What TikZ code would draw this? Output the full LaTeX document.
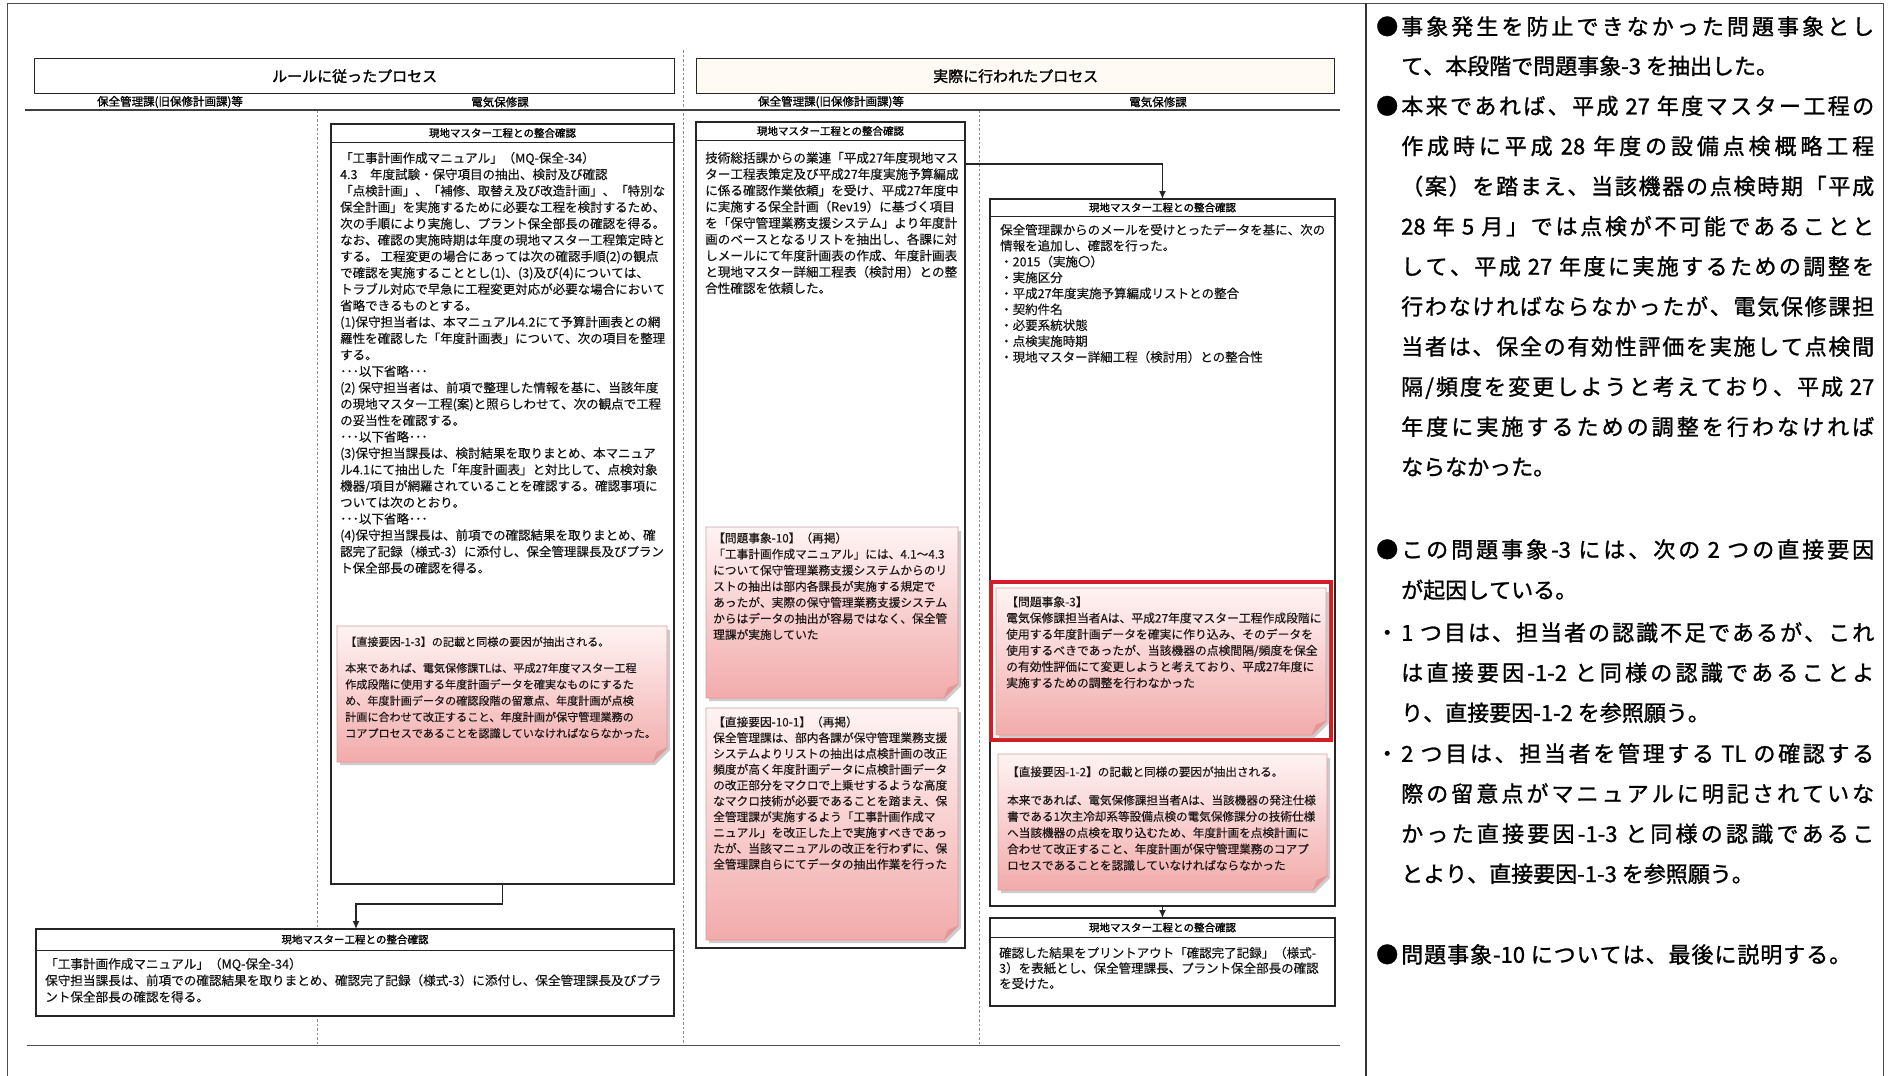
\documentclass[tikz,border=0pt]{standalone}
\usepackage{fontspec}
\setmainfont{Noto Sans CJK JP}
\newfontfamily\jp[FakeBold=0.4]{Noto Sans CJK JP}
\newfontfamily\jpb[FakeBold=1.5]{Noto Sans CJK JP}
\newfontfamily\jpr[FakeBold=1.2]{Noto Sans CJK JP}
\newfontfamily\jpt[FakeBold=1.5]{Noto Sans CJK JP}
\newfontfamily\jpc[LetterSpace=16,FakeBold=1.2]{Noto Sans CJK JP}
\usetikzlibrary{arrows.meta}
% inter-character glue for CJK justification
\XeTeXinterchartokenstate=1
\newXeTeXintercharclass\jcls
\newcount\jcnt
\def\setjrange#1#2{\jcnt=#1\relax\loop\XeTeXcharclass\jcnt=\jcls\advance\jcnt by 1\relax\ifnum\jcnt<#2\repeat}
\setjrange{"3000}{"3100}
\setjrange{"4E00}{"A000}
\setjrange{"FF00}{"FFF0}
\def\jglue{\hskip 0pt plus 3pt minus 1pt\relax}
\XeTeXinterchartoks\jcls\jcls={\jglue}
\XeTeXinterchartoks\jcls 0={\jglue}
\XeTeXinterchartoks 0 \jcls={\jglue}
\newcommand\jl[1]{\makebox[473pt][s]{#1}}
\definecolor{pinkT}{HTML}{FFF3F3}
\definecolor{pinkB}{HTML}{F2ABAB}
\definecolor{pinkD}{HTML}{D99C9C}
\definecolor{pinkF}{HTML}{E59797}
\definecolor{redbox}{HTML}{D11F26}
\definecolor{inkC}{HTML}{1E1818}
\definecolor{creamT}{HTML}{FFFAF4}
\newcommand\pinknote[4]{%
  \fill[black!20] (#1+3,#2+4) -- (#3+3,#2+4) -- (#3+3,#4-12) -- (#3-12,#4+3) -- (#1+3,#4+3) -- cycle;
  \shadedraw[top color=pinkT, bottom color=pinkB, draw=pinkD, line width=0.6pt]
    (#1,#2) -- (#3,#2) -- (#3,#4-14) -- (#3-14,#4) -- (#1,#4) -- cycle;
  \filldraw[fill=pinkF, draw=pinkD, line width=0.5pt] (#3,#4-14) -- (#3-14,#4) -- (#3-10,#4-10) -- cycle;
}
\begin{document}
\begin{tikzpicture}[x=1pt,y=-1pt,
  box/.style={draw=black!85, line width=1.3pt, fill=white, anchor=north west, inner sep=0pt, outer sep=0pt},
  bhead/.style={font=\jpb\fontsize{10.5}{12}\selectfont, inner sep=0pt, anchor=center},
  body/.style={anchor=north west, align=left, inner sep=0pt, font=\jp\fontsize{12.5}{16.4}\selectfont, text=black!92},
  ntext/.style={anchor=north west, align=left, inner sep=0pt, text=inkC},
  sepl/.style={draw=black!45, line width=0.7pt, dash pattern=on 2.5pt off 2pt},
  arr/.style={draw=black!85, line width=1.3pt, -{Latex[length=8pt,width=7pt]}},
  rp/.style={anchor=north west, align=left, inner sep=0pt, font=\jpr\fontsize{22}{40.1}\selectfont},
  title/.style={draw=black!85, line width=1.3pt, anchor=north west, inner sep=0pt, font=\jpt\fontsize{15}{16}\selectfont},
  colh/.style={font=\jpc\fontsize{11.5}{12}\selectfont, inner sep=0pt}
]
\useasboundingbox (0,0) rectangle (1890,1076);
\fill[white] (0,0) rectangle (1890,1076);

% outer frame and grid
\draw[line width=1.0pt, black!70] (7,1076) -- (7,3) -- (1883,3) -- (1883,1076);
\draw[line width=1.3pt, black!80] (1366,3) -- (1366,1076);
\draw[sepl] (317,110) -- (317,1045);
\draw[sepl] (683,50) -- (683,1045);
\draw[sepl] (979,110) -- (979,1045);
\draw[line width=1.0pt, black!70] (27,1045) -- (1340,1045);

% titles
\node[title, fill=white, minimum width=640pt, minimum height=35pt] (T1) at (34,58) {ルールに従ったプロセス};
\node[title, fill=creamT, minimum width=638pt, minimum height=35pt] (T2) at (696,58) {実際に行われたプロセス};

% column headers
\node[colh] (H1) at (170,102) {保全管理課(旧保修計画課)等};
\node[colh] (H2) at (500,102) {電気保修課};
\node[colh] (H3) at (831,102) {保全管理課(旧保修計画課)等};
\node[colh] (H4) at (1158,102) {電気保修課};
\draw[line width=1.5pt, black!75] (25,110) -- (1340,110);

% ---- Box A
\node[box, minimum width=343pt, minimum height=760pt] (A) at (331,124) {};
\draw[line width=1pt, black!85] (331,142) -- (674,142);
\node[bhead] (Ah) at (502.5,133) {現地マスター工程との整合確認};
\node[body] (At) at (340,151.8) {「工事計画作成マニュアル」（MQ-保全-34）\\
4.3　年度試験・保守項目の抽出、検討及び確認\\
「点検計画」、「補修、取替え及び改造計画」、「特別な\\
保全計画」を実施するために必要な工程を検討するため、\\
次の手順により実施し、プラント保全部長の確認を得る。\\
なお、確認の実施時期は年度の現地マスター工程策定時と\\
する。 工程変更の場合にあっては次の確認手順(2)の観点\\
で確認を実施することとし(1)、(3)及び(4)については、\\
トラブル対応で早急に工程変更対応が必要な場合において\\
省略できるものとする。\\
(1)保守担当者は、本マニュアル4.2にて予算計画表との網\\
羅性を確認した「年度計画表」について、次の項目を整理\\
する。\\
･･･以下省略･･･\\
(2) 保守担当者は、前項で整理した情報を基に、当該年度\\
の現地マスター工程(案)と照らしわせて、次の観点で工程\\
の妥当性を確認する。\\
･･･以下省略･･･\\
(3)保守担当課長は、検討結果を取りまとめ、本マニュア\\
ル4.1にて抽出した「年度計画表」と対比して、点検対象\\
機器/項目が網羅されていることを確認する。確認事項に\\
ついては次のとおり。\\
･･･以下省略･･･\\
(4)保守担当課長は、前項での確認結果を取りまとめ、確\\
認完了記録（様式-3）に添付し、保全管理課長及びプラン\\
ト保全部長の確認を得る。};
\pinknote{337}{626}{667}{762}
\node[ntext, font=\jp\fontsize{11.1}{16.3}\selectfont] (An) at (345,636.4) {【直接要因-1-3】の記載と同様の要因が抽出される。\\[10pt]
本来であれば、電気保修課TLは、平成27年度マスター工程\\
作成段階に使用する年度計画データを確実なものにするた\\
め、年度計画データの確認段階の留意点、年度計画が点検\\
計画に合わせて改正すること、年度計画が保守管理業務の\\
コアプロセスであることを認識していなければならなかった。};

% ---- Box B
\node[box, minimum width=638pt, minimum height=87pt] (B) at (36,929) {};
\draw[line width=1pt, black!85] (36,950) -- (674,950);
\node[bhead] (Bh) at (355,939.5) {現地マスター工程との整合確認};
\node[body, font=\jp\fontsize{12.6}{16.5}\selectfont] (Bt) at (45,957.7) {「工事計画作成マニュアル」（MQ-保全-34）\\
保守担当課長は、前項での確認結果を取りまとめ、確認完了記録（様式-3）に添付し、保全管理課長及びプラ\\
ント保全部長の確認を得る。};

\coordinate (a1) at (502.5,904);
\coordinate (bIn) at (356,929);
\draw[arr] (A.south) -- (a1) -| (bIn);

% ---- Box C
\node[box, minimum width=269pt, minimum height=826pt] (C) at (696,122) {};
\draw[line width=1pt, black!85] (696,140) -- (965,140);
\node[bhead] (Ch) at (830.5,131) {現地マスター工程との整合確認};
\node[body, font=\jp\fontsize{12.6}{16.3}\selectfont] (Ct) at (705,151.7) {技術総括課からの業連「平成27年度現地マス\\
ター工程表策定及び平成27年度実施予算編成\\
に係る確認作業依頼」を受け、平成27年度中\\
に実施する保全計画（Rev19）に基づく項目\\
を「保守管理業務支援システム」より年度計\\
画のベースとなるリストを抽出し、各課に対\\
しメールにて年度計画表の作成、年度計画表\\
と現地マスター詳細工程表（検討用）との整\\
合性確認を依頼した。};
\pinknote{706}{527}{958}{698}
\node[ntext, font=\jp\fontsize{11.7}{16.1}\selectfont] (Cn1) at (713,532.2) {【問題事象-10】（再掲）\\
「工事計画作成マニュアル」には、4.1～4.3\\
について保守管理業務支援システムからのリ\\
ストの抽出は部内各課長が実施する規定で\\
あったが、実際の保守管理業務支援システム\\
からはデータの抽出が容易ではなく、保全管\\
理課が実施していた};
\pinknote{706}{708}{958}{940}
\node[ntext, font=\jp\fontsize{11.7}{15.8}\selectfont] (Cn2) at (713,716.2) {【直接要因-10-1】（再掲）\\
保全管理課は、部内各課が保守管理業務支援\\
システムよりリストの抽出は点検計画の改正\\
頻度が高く年度計画データに点検計画データ\\
の改正部分をマクロで上乗せするような高度\\
なマクロ技術が必要であることを踏まえ、保\\
全管理課が実施するよう「工事計画作成マ\\
ニュアル」を改正した上で実施すべきであっ\\
たが、当該マニュアルの改正を行わずに、保\\
全管理課自らにてデータの抽出作業を行った};

% ---- Box D
\node[box, minimum width=345pt, minimum height=707pt] (D) at (990,199) {};
\draw[line width=1pt, black!85] (990,216) -- (1335,216);
\node[bhead] (Dh) at (1162.5,207.5) {現地マスター工程との整合確認};
\node[body, font=\jp\fontsize{12.5}{15.9}\selectfont] (Dt) at (1000,223.7) {保全管理課からのメールを受けとったデータを基に、次の\\
情報を追加し、確認を行った。\\
・2015（実施〇）\\
・実施区分\\
・平成27年度実施予算編成リストとの整合\\
・契約件名\\
・必要系統状態\\
・点検実施時期\\
・現地マスター詳細工程（検討用）との整合性};
\draw[redbox, line width=3.5pt] (991,582) rectangle (1331,740);
\pinknote{996}{588}{1326}{735}
\node[ntext, font=\jp\fontsize{11.8}{16.2}\selectfont] (Rt) at (1006,596.1) {【問題事象-3】\\
電気保修課担当者Aは、平成27年度マスター工程作成段階に\\
使用する年度計画データを確実に作り込み、そのデータを\\
使用するべきであったが、当該機器の点検間隔/頻度を保全\\
の有効性評価にて変更しようと考えており、平成27年度に\\
実施するための調整を行わなかった};
\pinknote{998}{754}{1327}{890}
\node[ntext, font=\jp\fontsize{11.6}{16.3}\selectfont] (Dn) at (1007,766.2) {【直接要因-1-2】の記載と同様の要因が抽出される。\\[12pt]
本来であれば、電気保修課担当者Aは、当該機器の発注仕様\\
書である1次主冷却系等設備点検の電気保修課分の技術仕様\\
へ当該機器の点検を取り込むため、年度計画を点検計画に\\
合わせて改正すること、年度計画が保守管理業務のコアプ\\
ロセスであることを認識していなければならなかった};

% ---- Box E
\node[box, minimum width=345pt, minimum height=88pt] (E) at (990,918) {};
\draw[line width=1pt, black!85] (990,937) -- (1335,937);
\node[bhead] (Eh) at (1162.5,927.5) {現地マスター工程との整合確認};
\node[body, font=\jp\fontsize{12.5}{15.3}\selectfont] (Et) at (999,946.7) {確認した結果をプリントアウト「確認完了記録」（様式-\\
3）を表紙とし、保全管理課長、プラント保全部長の確認\\
を受けた。};

\coordinate (cOut) at (965,164);
\draw[arr] (cOut) -| (D.north);
\draw[arr] (D.south) -- (E.north);

% ---- right panel
\node[rp] (b1) at (1376,16) {\vphantom{漢}●};
\node[rp, font=\jpr\fontsize{22}{39.5}\selectfont] (p1) at (1401,16) {\jl{事象発生を防止できなかった問題事象とし}\\
て、本段階で問題事象-3 を抽出した。};
\node[rp] (b2) at (1376,95.5) {\vphantom{漢}●};
\node[rp] (p2) at (1401,95.5) {\jl{本来であれば、平成 27 年度マスター工程の}\\
\jl{作成時に平成 28 年度の設備点検概略工程}\\
\jl{（案）を踏まえ、当該機器の点検時期「平成}\\
\jl{28 年 5 月」では点検が不可能であることと}\\
\jl{して、平成 27 年度に実施するための調整を}\\
\jl{行わなければならなかったが、電気保修課担}\\
\jl{当者は、保全の有効性評価を実施して点検間}\\
\jl{隔/頻度を変更しようと考えており、平成 27}\\
\jl{年度に実施するための調整を行わなければ}\\
ならなかった。};
\node[rp] (b3) at (1376,539) {\vphantom{漢}●};
\node[rp, font=\jpr\fontsize{22}{40.5}\selectfont] (p3) at (1401,539) {\jl{この問題事象-3 には、次の 2 つの直接要因}\\
が起因している。};
\node[rp] (b4) at (1376,622) {\vphantom{漢}・};
\node[rp] (p4) at (1401,622) {\jl{1 つ目は、担当者の認識不足であるが、これ}\\
\jl{は直接要因-1-2 と同様の認識であることよ}\\
り、直接要因-1-2 を参照願う。};
\node[rp] (b5) at (1376,743) {\vphantom{漢}・};
\node[rp] (p5) at (1401,743) {\jl{2 つ目は、担当者を管理する TL の確認する}\\
\jl{際の留意点がマニュアルに明記されていな}\\
\jl{かった直接要因-1-3 と同様の認識であるこ}\\
とより、直接要因-1-3 を参照願う。};
\node[rp] (b6) at (1376,944) {\vphantom{漢}●};
\node[rp] (p6) at (1401,944) {\makebox[450pt][s]{問題事象-10 については、最後に説明する。}};
\end{tikzpicture}
\end{document}
